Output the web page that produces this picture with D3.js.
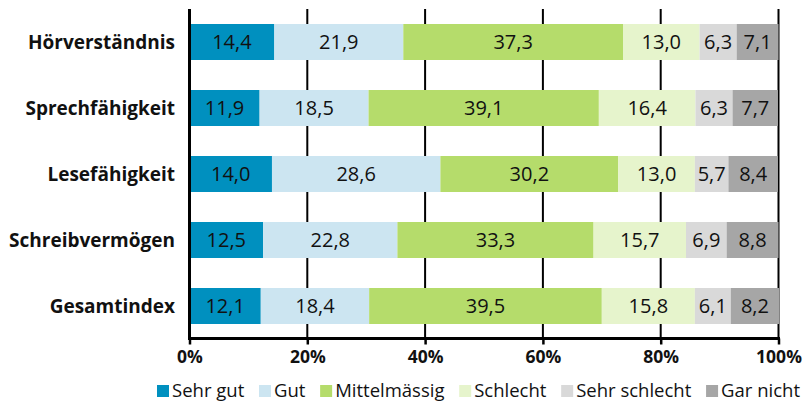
<!DOCTYPE html>
<html><head><meta charset="utf-8">
<script src="https://cdn.jsdelivr.net/npm/d3@7"></script>
<style>
html,body{margin:0;padding:0;background:#fff;}
svg{display:block;font-family:"Open Sans",sans-serif;}
</style></head>
<body><svg id="c" width="809" height="402"></svg>
<script>
const categories = ["Hörverständnis","Sprechfähigkeit","Lesefähigkeit","Schreibvermögen","Gesamtindex"];
const seriesNames = ["Sehr gut","Gut","Mittelmässig","Schlecht","Sehr schlecht","Gar nicht"];
const sehrGut     = [14.4, 11.9, 14.0, 12.5, 12.1];
const gut         = [21.9, 18.5, 28.6, 22.8, 18.4];
const mittel      = [37.3, 39.1, 30.2, 33.3, 39.5];
const schlecht    = [13.0, 16.4, 13.0, 15.7, 15.8];
const sehrSchlecht= [6.3, 6.3, 5.7, 6.9, 6.1];
const garNicht    = [7.1, 7.7, 8.4, 8.8, 8.2];
const tickValues  = [0, 20, 40, 60, 80, 100];
const colors = ["#0090bf","#cce5f1","#b5dc6b","#e6f4cc","#d9d9d9","#a6a6a6"];

const seriesValues = [sehrGut, gut, mittel, schlecht, sehrSchlecht, garNicht];
const rows = categories.map((c,i)=>{
  const o = {cat:c};
  seriesNames.forEach((s,j)=>o[s]=seriesValues[j][i]);
  return o;
});
const stack = d3.stack().keys(seriesNames)(rows);

const svg = d3.select("#c");
const x = d3.scaleLinear().domain([0,100]).range([189.5,778.5]);
const y = d3.scaleBand().domain(categories).range([9,339]).paddingInner(30/66).paddingOuter(15/66);
const color = d3.scaleOrdinal().domain(seriesNames).range(colors);

// gridlines
svg.append("g").selectAll("line").data(tickValues.filter(d=>d>0)).join("line")
  .attr("x1",d=>x(d)).attr("x2",d=>x(d)).attr("y1",9).attr("y2",339)
  .attr("stroke","#000").attr("stroke-width",2);

// bars
const g = svg.append("g");
stack.forEach(layer=>{
  g.append("g").selectAll("rect").data(layer).join("rect")
    .attr("x",d=>x(d[0])).attr("width",d=>x(d[1])-x(d[0]))
    .attr("y",d=>y(d.data.cat)).attr("height",y.bandwidth())
    .attr("fill",color(layer.key));
  g.append("g").selectAll("text").data(layer).join("text")
    .attr("x",d=>(x(d[0])+x(d[1]))/2)
    .attr("y",d=>y(d.data.cat)+y.bandwidth()/2)
    .attr("dy","0.36em").attr("text-anchor","middle")
    .attr("font-size",20).attr("fill","#111")
    .text(d=>d3.format(".1f")(d[1]-d[0]).replace(".",","));
});

// x axis
const xAxis = d3.axisBottom(x).tickValues(tickValues).tickFormat(d=>d+"%").tickSize(6).tickSizeOuter(0);
const ax = svg.append("g").attr("transform","translate(0,338.5)").call(xAxis);
ax.select(".domain").attr("stroke","#000").attr("stroke-width",3).attr("d","M188,0H780");
ax.selectAll(".tick line").attr("stroke","#000").attr("stroke-width",2.5);
ax.selectAll(".tick text").attr("font-family","Open Sans").attr("font-size",17.5).attr("font-weight","bold")
  .attr("fill","#111").attr("y",0).attr("dy",0).attr("transform","translate(0,24.8)");

// y axis line
svg.append("line").attr("x1",x(0)).attr("x2",x(0)).attr("y1",9).attr("y2",340)
  .attr("stroke","#000").attr("stroke-width",3);

// category labels
const yAxis = d3.axisLeft(y).tickSize(0).tickPadding(0);
const ay = svg.append("g").attr("transform","translate(175,0)").call(yAxis);
ay.select(".domain").remove();
ay.selectAll(".tick text").attr("font-family","Open Sans").attr("font-size",19).attr("font-weight","bold")
  .attr("fill","#111").attr("dy","0.36em");

// legend
const leg = svg.append("g");
const items = leg.selectAll("g").data(seriesNames).join("g");
items.append("rect").attr("width",12).attr("height",12).attr("y",385).attr("fill",d=>color(d));
items.append("text").attr("x",15).attr("y",397).attr("font-size",18.5).attr("fill","#111").text(d=>d);
const widths = [];
items.each(function(){ widths.push(15 + d3.select(this).select("text").node().getComputedTextLength()); });
const total = d3.sum(widths);
const gap = (800 - 157 - total)/(seriesNames.length-1);
let cx = 157;
items.each(function(d,i){ d3.select(this).attr("transform",`translate(${cx},0)`); cx += widths[i]+gap; });
</script></body></html>
